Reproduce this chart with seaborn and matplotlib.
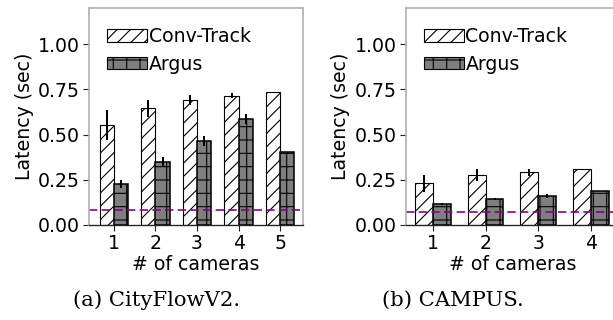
import pandas as pd
import matplotlib
matplotlib.use('Agg')
import matplotlib.pyplot as plt
from matplotlib.patches import Patch
import seaborn as sns

# values
city_cams = [1, 2, 3, 4, 5]
city_conv = [0.552, 0.646, 0.690, 0.716, 0.735]
city_conv_err = [0.083, 0.048, 0.027, 0.014, 0.0]
city_argus = [0.226, 0.348, 0.466, 0.586, 0.401]
city_argus_err = [0.023, 0.026, 0.028, 0.027, 0.0]
city_target = 0.081

campus_cams = [1, 2, 3, 4]
campus_conv = [0.230, 0.274, 0.291, 0.308]
campus_conv_err = [0.046, 0.033, 0.020, 0.0]
campus_argus = [0.114, 0.144, 0.159, 0.190]
campus_argus_err = [0.005, 0.005, 0.012, 0.0]
campus_target = 0.07

systems = ['Conv-Track', 'Argus']
yticks = [0.0, 0.25, 0.5, 0.75, 1.0]

DPI = 80
FS = 17

plt.rcParams['font.family'] = ['DejaVu Sans']
plt.rcParams['font.size'] = FS


# Build long frame for one dataset
def make_frame(cams, conv, argus):
    rows = []
    for c, v in zip(cams, conv):
        rows.append({'cams': str(c), 'system': systems[0], 'latency': v})
    for c, v in zip(cams, argus):
        rows.append({'cams': str(c), 'system': systems[1], 'latency': v})
    return pd.DataFrame(rows)


# Style for each system: (face, hatch)
styles = {'Conv-Track': ('white', '//'), 'Argus': ('#7f7f7f', '+')}


def draw_panel(ax, cams, conv, conv_err, argus, argus_err, target, xlim):
    frame = make_frame(cams, conv, argus)
    sns.barplot(data=frame, x='cams', y='latency', hue='system', hue_order=systems,
                width=0.68, errorbar=None, ax=ax, legend=False,
                palette=['white', '#7f7f7f'])
    for cont, name, errs in zip(ax.containers, systems, [conv_err, argus_err]):
        face, hatch = styles[name]
        xs, ys = [], []
        for bar in cont:
            bar.set_facecolor(face)
            bar.set_edgecolor('black')
            bar.set_hatch(hatch)
            bar.set_linewidth(1.0 if name == 'Conv-Track' else 1.4)
            xs.append(bar.get_x() + bar.get_width() / 2)
            ys.append(bar.get_height())
        ax.errorbar(xs, ys, yerr=errs, fmt='none', ecolor='black', elinewidth=1.8, capsize=0)
    ax.axhline(target, color='#8b008b', linestyle='--', linewidth=1.5, dashes=(5, 2.6))
    ax.set_ylim(0, 1.2)
    ax.set_xlim(*xlim)
    ax.set_yticks(yticks)
    ax.set_yticklabels(['%.2f' % t for t in yticks])
    ax.set_xlabel('# of cameras', labelpad=2)
    ax.set_ylabel('Latency (sec)', labelpad=4)
    for side in ['left', 'top', 'right']:
        ax.spines[side].set_color('#b0b0b0')
        ax.spines[side].set_linewidth(1.5)
    ax.spines['bottom'].set_color('#222222')
    ax.spines['bottom'].set_linewidth(1.2)
    ax.tick_params(axis='both', length=5, width=1, color='#222222', pad=3)
    handles = [Patch(facecolor=styles[s][0], edgecolor='black', hatch=styles[s][1], linewidth=1.0)
               for s in systems]
    ax.legend(handles, systems, loc='upper left', bbox_to_anchor=(0.085, 0.912),
              frameon=False, borderpad=0, borderaxespad=0, handlelength=2.1,
              handleheight=0.62, handletextpad=0.1, labelspacing=0.45, fontsize=FS)


fig = plt.figure(figsize=(613 / DPI, 320 / DPI), dpi=DPI)
ax1 = fig.add_axes([89 / 613, 95 / 320, 214 / 613, 217 / 320])
ax2 = fig.add_axes([405.7 / 613, 95 / 320, 214 / 613, 217 / 320])

draw_panel(ax1, city_cams, city_conv, city_conv_err, city_argus, city_argus_err,
           city_target, (-0.6, 4.55))
draw_panel(ax2, campus_cams, campus_conv, campus_conv_err, campus_argus, campus_argus_err,
           campus_target, (-0.52, 3.55))

fig.text(156.5 / 613, 1 - 300 / 320, '(a) CityFlowV2.', ha='center', va='center',
         family='DejaVu Serif', fontsize=19)
fig.text(453 / 613, 1 - 300 / 320, '(b) CAMPUS.', ha='center', va='center',
         family='DejaVu Serif', fontsize=19)

fig.savefig('out.png', dpi=DPI)
